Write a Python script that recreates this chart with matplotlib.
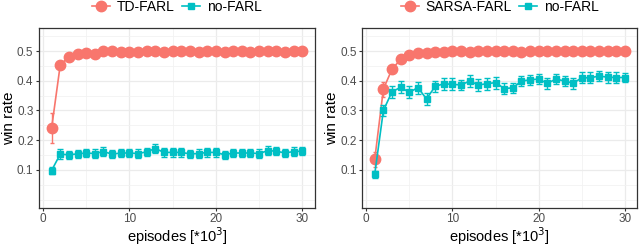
import numpy as np
import matplotlib
matplotlib.use("Agg")
import matplotlib.pyplot as plt
from matplotlib.lines import Line2D

plt.rcParams['font.family'] = ['Liberation Sans', 'DejaVu Sans']

episodes = list(range(1, 31))

# left panel
td_farl = [0.240, 0.453, 0.481, 0.489, 0.494, 0.491, 0.499, 0.500, 0.498, 0.497,
           0.497, 0.499, 0.500, 0.498, 0.501, 0.500, 0.499, 0.497, 0.499, 0.500,
           0.498, 0.499, 0.500, 0.498, 0.499, 0.500, 0.499, 0.498, 0.499, 0.500]
td_farl_err = [0.050, 0.008, 0.005, 0.004, 0.003, 0.003, 0.003, 0.003, 0.003, 0.003,
               0.003, 0.003, 0.003, 0.003, 0.003, 0.003, 0.003, 0.003, 0.003, 0.003,
               0.003, 0.003, 0.003, 0.003, 0.003, 0.003, 0.003, 0.003, 0.003, 0.003]
no_farl_l = [0.098, 0.153, 0.151, 0.154, 0.157, 0.155, 0.162, 0.153, 0.157, 0.157,
             0.155, 0.161, 0.172, 0.159, 0.159, 0.159, 0.154, 0.155, 0.159, 0.159,
             0.151, 0.157, 0.157, 0.157, 0.155, 0.165, 0.163, 0.157, 0.162, 0.163]
no_farl_l_err = [0.013, 0.016, 0.014, 0.014, 0.015, 0.016, 0.014, 0.014, 0.014, 0.014,
                 0.014, 0.014, 0.016, 0.014, 0.014, 0.014, 0.014, 0.014, 0.014, 0.014,
                 0.014, 0.014, 0.014, 0.014, 0.014, 0.016, 0.014, 0.014, 0.014, 0.014]

# right panel
sarsa_farl = [0.136, 0.372, 0.439, 0.472, 0.487, 0.494, 0.494, 0.498, 0.498, 0.501,
              0.499, 0.498, 0.500, 0.499, 0.500, 0.499, 0.500, 0.498, 0.499, 0.500,
              0.499, 0.500, 0.499, 0.500, 0.499, 0.500, 0.499, 0.500, 0.499, 0.500]
sarsa_farl_err = [0.025, 0.025, 0.010, 0.006, 0.004, 0.003, 0.003, 0.003, 0.003, 0.003,
                  0.003, 0.003, 0.003, 0.003, 0.003, 0.003, 0.003, 0.003, 0.003, 0.003,
                  0.003, 0.003, 0.003, 0.003, 0.003, 0.003, 0.003, 0.003, 0.003, 0.003]
no_farl_r = [0.086, 0.300, 0.363, 0.378, 0.361, 0.377, 0.339, 0.381, 0.390, 0.388,
             0.386, 0.399, 0.386, 0.390, 0.394, 0.374, 0.376, 0.399, 0.403, 0.406,
             0.391, 0.406, 0.399, 0.392, 0.410, 0.410, 0.416, 0.412, 0.411, 0.411]
no_farl_r_err = [0.012, 0.020, 0.020, 0.020, 0.020, 0.020, 0.020, 0.018, 0.020, 0.020,
                 0.018, 0.020, 0.020, 0.020, 0.020, 0.020, 0.018, 0.018, 0.018, 0.018,
                 0.020, 0.018, 0.018, 0.018, 0.018, 0.018, 0.018, 0.018, 0.018, 0.016]

RED = "#F8766D"
TEAL = "#00BFC4"

fig = plt.figure(figsize=(6.4, 2.48), dpi=100)
ax1 = fig.add_axes([0.061, 0.162, 0.431, 0.725])
ax2 = fig.add_axes([0.566, 0.162, 0.430, 0.725])


def panel(ax, farl, farl_err, base, base_err, farl_name):
    ax.errorbar(episodes, farl, yerr=farl_err, color=RED, lw=1.2, marker='o',
                ms=7.5, elinewidth=1.0, capsize=1.5, zorder=3)
    ax.errorbar(episodes, base, yerr=base_err, color=TEAL, lw=1.2, marker='s',
                ms=4.8, elinewidth=1.0, capsize=2, zorder=4)
    ax.set_xlim(-0.45, 31.45)
    ax.set_ylim(-0.0275, 0.5775)
    ax.set_xticks([0, 10, 20, 30])
    ax.set_yticks([0.1, 0.2, 0.3, 0.4, 0.5])
    ax.set_xticks([5, 15, 25], minor=True)
    ax.set_yticks([0.0, 0.05, 0.15, 0.25, 0.35, 0.45, 0.55], minor=True)
    ax.grid(which='major', color='#EBEBEB', lw=0.9)
    ax.grid(which='minor', color='#F2F2F2', lw=0.6)
    ax.set_axisbelow(True)
    for s in ax.spines.values():
        s.set_color('#333333')
        s.set_linewidth(0.9)
    ax.tick_params(which='major', length=2.5, color='#333333', labelcolor='#4D4D4D',
                   labelsize=8.5, pad=1.5)
    ax.tick_params(which='minor', length=0)
    ax.set_xlabel('episodes [*10$^{3}$]', fontsize=10.5, labelpad=0)
    ax.set_ylabel('win rate', fontsize=11, labelpad=1)
    handles = [Line2D([], [], color=RED, marker='o', ms=7.5, lw=1.2),
               Line2D([], [], color=TEAL, marker='s', ms=4.8, lw=1.2)]
    ax.legend(handles, [farl_name, 'no-FARL'], loc='center',
              bbox_to_anchor=(0.5, 1 + 21 / 180), ncol=2, frameon=False, fontsize=10,
              handlelength=1.3, columnspacing=0.5, handletextpad=0.5,
              borderaxespad=0, borderpad=0)


panel(ax1, td_farl, td_farl_err, no_farl_l, no_farl_l_err, 'TD-FARL')
panel(ax2, sarsa_farl, sarsa_farl_err, no_farl_r, no_farl_r_err, 'SARSA-FARL')

fig.savefig('out.png', dpi=100)
